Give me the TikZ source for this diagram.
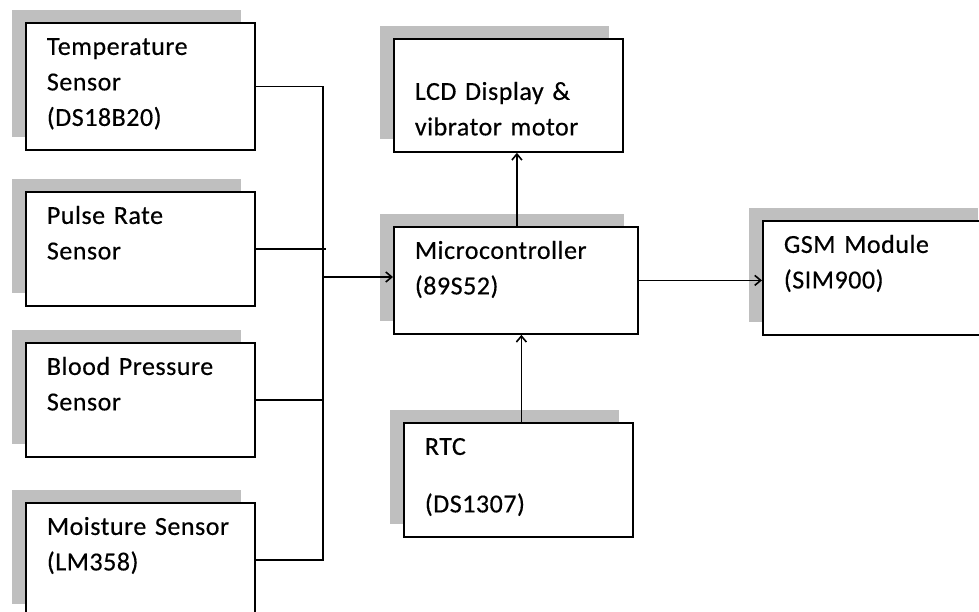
\documentclass[tikz,border=0pt]{standalone}
\usepackage{fontspec}
\setmainfont{Carlito}[LetterSpace=2, FakeBold=0.4]
\usetikzlibrary{arrows.meta,shadows}

\begin{document}
\begin{tikzpicture}[
  x=1pt, y=-1pt,
  font=\fontsize{26}{35.5}\selectfont,
  blk/.style={draw, line width=1.8pt, fill=white, anchor=north west,
    align=left, text width=187pt, inner xsep=21pt, inner ysep=0pt,
    text height=32pt, text depth=82pt,
    general shadow={fill=black!25, shadow xshift=-14pt, shadow yshift=13pt}},
  wire/.style={line width=1.6pt},
  arr/.style={wire, -{Straight Barb[length=6pt,width=10pt]}}
]
\fill[white] (0,0) rectangle (979,612);
\path[use as bounding box] (0,0) rectangle (979,612);
\clip (0,0) rectangle (979,612);

\node[blk, text depth=95pt] (temp) at (25,22) {Temperature\\Sensor\\(DS18B20)};
\node[blk] (pulse) at (25,191) {Pulse Rate\\Sensor};
\node[blk] (bp) at (25,342) {Blood Pressure\\Sensor};
\node[blk] (moist) at (25,502) {Moisture Sensor\\(LM358)};
\node[blk, text height=61pt, text depth=52pt] (lcd) at (393,38) {LCD Display \&\\vibrator motor};
\node[blk, text width=202pt, text depth=75pt] (mcu) at (393,226) {Microcontroller\\(89S52)};
\node[blk] (gsm) at (762,220) {GSM Module\\(SIM900)};
\node[blk] (rtc) at (403,422) {RTC\\[22pt](DS1307)};

\coordinate (bus) at (323,277);
\draw[wire] (temp.east) -| (bus) |- (moist.east);
\draw[wire] (pulse.east) -- ([xshift=3pt]pulse.east -| bus);
\draw[wire] (bp.east) -- (bp.east -| bus);
\draw[arr] (bus) -- (bus -| mcu.west);
\draw[arr] (mcu.east) -- (mcu.east -| gsm.west);
\draw[arr] ([xshift=1pt]mcu.north) -- ([xshift=1pt]mcu.north |- lcd.south);
\draw[arr] ([xshift=3pt]rtc.north) -- ([xshift=3pt]rtc.north |- mcu.south);
\end{tikzpicture}
\end{document}
